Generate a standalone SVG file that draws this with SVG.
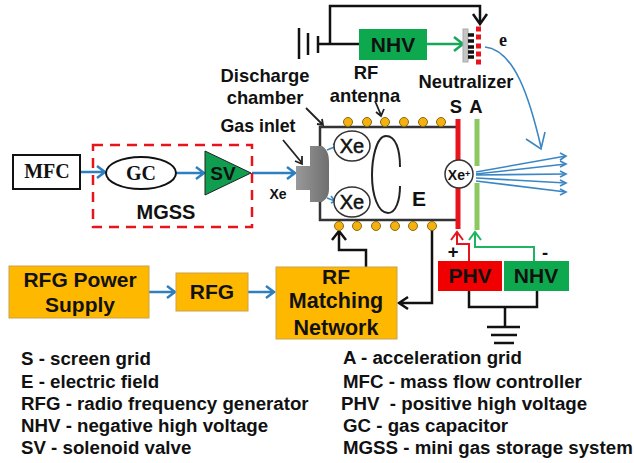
<svg xmlns="http://www.w3.org/2000/svg" width="634" height="463" viewBox="0 0 634 463">
<style>
text{font-family:"Liberation Sans",Arial,sans-serif;font-weight:bold;fill:#111;text-anchor:middle}
.l{font-size:18.7px;text-anchor:start;white-space:pre}
.s{font-size:18.4px}
.b{font-size:21px}
.o{fill:#ffb800;stroke:#c9a24a;stroke-width:1}
.dot{fill:#f5b110;stroke:#8a6a10;stroke-width:1}
.k{fill:none;stroke:#111;stroke-width:2.5}
.kt{fill:none;stroke:#222;stroke-width:1.8}
.bl{fill:none;stroke:#2e7fc0;stroke-width:2.5}
.th{fill:none;stroke:#3a86c4;stroke-width:1.6}
.xe{fill:#fff;stroke:#333;stroke-width:1.5}
.se{font-family:"Liberation Serif",serif}
</style>
<defs>
<linearGradient id="g" x1="0" y1="0" x2="1" y2="0"><stop offset="0" stop-color="#999"/><stop offset="1" stop-color="#6f6f6f"/></linearGradient>
</defs>
<rect width="634" height="463" fill="#fff"/>

<g id="connectors">
<path class="k" d="M299 28V59M308 33V55M318 36V53M318 44H359M330 44V6H480V23"/>
<path class="k" d="M473 14L480 24L487 14"/>
<path d="M427 44H463" fill="none" stroke="#16a85a" stroke-width="2.5"/>
<path d="M454 37L463 44L454 51" fill="none" stroke="#16a85a" stroke-width="2.5"/>
<path class="bl" d="M80 172H105M97 166L105 172L97 178"/>
<path class="bl" d="M176 173H204M196 167L204 173L196 179"/>
<path class="bl" d="M252 173H295M287 167L295 173L287 179"/>
<path class="bl" d="M149 292H175M167 286L175 292L167 298"/>
<path class="bl" d="M248 292H274M266 286L274 292L266 298"/>
<path class="k" d="M366 268V250H339V232M332 240L339 231L346 240"/>
<path class="k" d="M432 228V303H399M408 297L399 303L408 309"/>
<path d="M469 261V244H457V233M451 240L457 232L463 240" fill="none" stroke="#e8141c" stroke-width="2"/>
<path d="M534 261V247H475V233M469 240L475 232L481 240" fill="none" stroke="#1fb45f" stroke-width="2"/>
<path class="k" d="M469 291V307H537V291M505 307V327M487 327H520M491 335H517M494 343H514"/>
<path class="kt" d="M306 108L323 125M317 124L323 125L322 119"/>
<path class="kt" d="M283 140L302 163M295 161L302 164L302 156"/>
<path class="kt" d="M375 101L381 115M376 112L381 116L384 109"/>
<path class="th" d="M485 47C515 50 530 100 541 147"/>
<path class="th" d="M526 139L541 149L545 132"/>
<path class="th" d="M476 172L566 156M476 174L566 164M476 175L566 174M476 178L566 183M476 181L566 192"/>
<path class="th" d="M560 153L566 156L560 160M560 161L566 164L560 167M560 171L566 174L560 177M560 180L566 183L560 186M560 189L566 192L560 195"/>
<path class="th" d="M327 150L337 146M333 144L337 146L334 150M327 198L335 201M331 196L335 201L331 203"/>
</g>

<g id="mfc"><rect x="13" y="155" width="67" height="34" fill="#fff" stroke="#111" stroke-width="2"/><text x="47" y="178" class="se" style="font-size:20px">MFC</text></g>
<g id="mgss"><rect x="93" y="145" width="159" height="82" fill="none" stroke="#e8141c" stroke-width="2.5" stroke-dasharray="10 7"/><text x="166" y="219" style="font-size:20px">MGSS</text></g>
<g id="gc"><ellipse cx="141" cy="173" rx="35" ry="16" fill="#fff" stroke="#111" stroke-width="2"/><text x="141" y="180" class="se" style="font-size:20px">GC</text></g>
<g id="sv"><path d="M205 151L251 173L205 195Z" fill="#0f9d4f" stroke="#222" stroke-width="1"/><text x="223" y="180" style="font-size:19px">SV</text></g>
<text x="278" y="199" style="font-size:14px">Xe</text>

<g id="top-nhv"><rect x="359" y="29" width="68" height="31" fill="#0ea94f"/><text x="393" y="52" class="b">NHV</text></g>
<g id="neutralizer">
<rect x="463" y="29" width="5" height="33" fill="#c4c4c4" stroke="#aaa"/>
<path d="M468 35H474M468 41H474M468 47H474M468 52H474M468 57H474" stroke="#111" stroke-width="3.5" fill="none"/>
<path d="M476 29H481M476 37H481M476 46H481M476 54H481M476 62H481" stroke="#e8141c" stroke-width="5" fill="none"/>
<text x="503" y="46" class="se" style="font-size:18px">e</text>
<text x="466" y="88" class="s">Neutralizer</text>
</g>

<g id="labels-top">
<text x="265" y="82" class="s">Discharge</text>
<text x="265" y="104" class="s">chamber</text>
<text x="366" y="79" class="s">RF</text>
<text x="365" y="102" class="s">antenna</text>
<text x="258" y="132" style="font-size:17.8px">Gas inlet</text>
<text x="456" y="113" class="s">S</text>
<text x="476" y="113" class="s">A</text>
</g>

<g id="chamber">
<path d="M320 146V127H456M320 202V220H456" fill="none" stroke="#333" stroke-width="2.5"/>
<path d="M296 166H310V146H322C328 150 329 156 329 162V188C329 194 328 198 322 202H310V190H296Z" fill="url(#g)"/>
<circle class="dot" cx="348" cy="122" r="4.5"/><circle class="dot" cx="367" cy="122" r="4.5"/><circle class="dot" cx="385" cy="122" r="4.5"/><circle class="dot" cx="404" cy="122" r="4.5"/><circle class="dot" cx="423" cy="122" r="4.5"/><circle class="dot" cx="441" cy="122" r="4.5"/>
<circle class="dot" cx="339" cy="226" r="4.5"/><circle class="dot" cx="357" cy="226" r="4.5"/><circle class="dot" cx="376" cy="226" r="4.5"/><circle class="dot" cx="395" cy="226" r="4.5"/><circle class="dot" cx="413" cy="226" r="4.5"/><circle class="dot" cx="432" cy="226" r="4.5"/>
<ellipse class="xe" cx="352" cy="146" rx="18" ry="15"/><text x="352" y="153" style="font-size:20px;font-weight:normal;stroke:#111;stroke-width:.5">Xe</text>
<ellipse class="xe" cx="352" cy="202" rx="18" ry="15"/><text x="352" y="209" style="font-size:20px;font-weight:normal;stroke:#111;stroke-width:.5">Xe</text>
<path d="M400 167C400 150 396 136 386 136C376 136 372 160 372 175C372 195 378 213 388 213C396 213 400 200 400 186" fill="none" stroke="#222" stroke-width="2"/>
<text x="419" y="206" class="b">E</text>
</g>

<g id="grids">
<path d="M458 119V229" stroke="#e8141c" stroke-width="5" fill="none"/>
<path d="M477 119V166M477 183V230" stroke="#8cc860" stroke-width="5" fill="none"/>
<circle class="xe" cx="459" cy="174" r="14"/><text x="459" y="180" style="font-size:14px">Xe<tspan dy="-3" font-size="9">+</tspan></text>
</g>

<g id="rfg-power"><rect x="9" y="266" width="140" height="52" class="o"/><text x="80" y="287" class="b">RFG Power</text><text x="80" y="312" class="b">Supply</text></g>
<g id="rfg"><rect x="176" y="273" width="72" height="38" class="o"/><text x="212" y="299" class="b">RFG</text></g>
<g id="rf-matching"><rect x="276" y="267" width="121" height="72" class="o"/><text x="336" y="284" class="b">RF</text><text x="336" y="308" style="font-size:21.5px">Matching</text><text x="336" y="335" style="font-size:21.5px">Network</text></g>
<g id="phv"><rect x="438" y="261" width="64" height="30" fill="#f00000"/><text x="470" y="283" class="b">PHV</text></g>
<g id="nhv"><rect x="504" y="261" width="65" height="30" fill="#0ea94f"/><text x="536" y="283" class="b">NHV</text></g>
<text x="453" y="258" class="s">+</text>
<text x="545" y="259" class="s">-</text>

<g id="legend">
<text class="l" x="21" y="365">S - screen grid</text>
<text class="l" x="21" y="388">E - electric field</text>
<text class="l" x="21" y="410">RFG - radio frequency generator</text>
<text class="l" x="21" y="432">NHV - negative high voltage</text>
<text class="l" x="21" y="454">SV - solenoid valve</text>
<text class="l" x="343" y="364">A - acceleration grid</text>
<text class="l" x="343" y="388">MFC - mass flow controller</text>
<text class="l" x="341" y="410">PHV  - positive high voltage</text>
<text class="l" x="343" y="432">GC - gas capacitor</text>
<text class="l" x="343" y="454">MGSS - mini gas storage system</text>
</g>
</svg>
